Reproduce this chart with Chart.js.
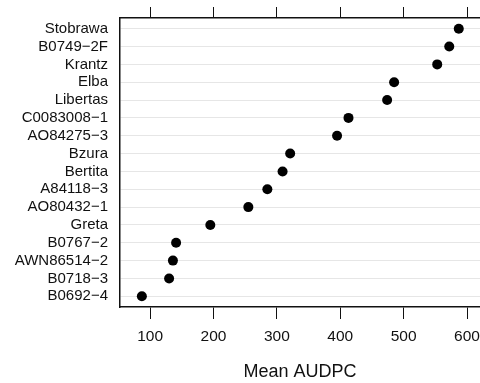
<!DOCTYPE html>
<html>
<head>
<meta charset="utf-8">
<script src="https://cdn.jsdelivr.net/npm/chart.js@4.4.1/dist/chart.umd.min.js"></script>
<style>
  html, body { margin: 0; padding: 0; background: #fff; overflow: hidden; width: 480px; height: 383px; }
  #wrap { position: relative; width: 500px; height: 383px; }
</style>
</head>
<body>
<div id="wrap"><canvas id="c"></canvas></div>
<script>
// Categories listed top to bottom as in the reference
const categories = ["Stobrawa", "B0749\u22122F", "Krantz", "Elba", "Libertas", "C0083008\u22121",
  "AO84275\u22123", "Bzura", "Bertita", "A84118\u22123", "AO80432\u22121", "Greta",
  "B0767\u22122", "AWN86514\u22122", "B0718\u22123", "B0692\u22124"];
const meanAUDPC = [587, 572, 553, 485, 474, 413, 395, 321, 309, 285, 255, 195, 141, 136, 130, 87];
const xTicks = [100, 200, 300, 400, 500, 600];
const xTitle = "Mean AUDPC";

const n = categories.length;
const points = meanAUDPC.map((v, i) => ({ x: v, y: n - i }));
const FONT = "'Liberation Sans', Arial, Helvetica, sans-serif";

new Chart(document.getElementById('c'), {
  type: 'scatter',
  data: {
    datasets: [{
      data: points,
      backgroundColor: '#000',
      borderColor: '#000',
      borderWidth: 0,
      pointRadius: 5,
      pointHoverRadius: 5
    }]
  },
  options: {
    responsive: true,
    maintainAspectRatio: false,
    animation: false,
    events: [],
    layout: { padding: { left: 0, right: 20, top: 0, bottom: 0 } },
    plugins: { legend: { display: false }, tooltip: { enabled: false } },
    scales: {
      x: {
        type: 'linear',
        position: 'bottom',
        min: 52.5,
        max: 620.5,
        afterBuildTicks: (s) => { s.ticks = xTicks.map(v => ({ value: v })); },
        afterFit: (s) => { s.height = 76; },
        grid: { drawOnChartArea: false, drawTicks: true, tickLength: 12, color: '#111', lineWidth: 1 },
        border: { display: true, color: '#111', width: 1.5 },
        ticks: { color: '#111', font: { family: FONT, size: 15.5 }, padding: 8, maxRotation: 0 },
        title: { display: true, text: xTitle, color: '#111', font: { family: FONT, size: 18 }, padding: { top: 1, bottom: 0 } }
      },
      x2: {
        type: 'linear',
        position: 'top',
        min: 52.5,
        max: 620.5,
        afterBuildTicks: (s) => { s.ticks = xTicks.map(v => ({ value: v })); },
        afterFit: (s) => { s.height = 18; },
        grid: { drawOnChartArea: false, drawTicks: true, tickLength: 11, color: '#111', lineWidth: 1 },
        border: { display: true, color: '#111', width: 1.5 },
        ticks: { display: false }
      },
      y: {
        type: 'linear',
        position: 'left',
        min: 0.4,
        max: 16.6,
        afterBuildTicks: (s) => { s.ticks = categories.map((c, i) => ({ value: n - i })); },
        afterFit: (s) => { s.width = 120; },
        grid: { drawTicks: true, tickLength: 12, tickColor: 'rgba(0,0,0,0)', color: '#e6e6e6', lineWidth: 1 },
        border: { display: true, color: '#111', width: 1.5 },
        ticks: {
          color: '#111',
          font: { family: FONT, size: 15 },
          padding: 0,
          autoSkip: false,
          callback: (v) => categories[n - v]
        }
      }
    }
  }
});
</script>
</body>
</html>
